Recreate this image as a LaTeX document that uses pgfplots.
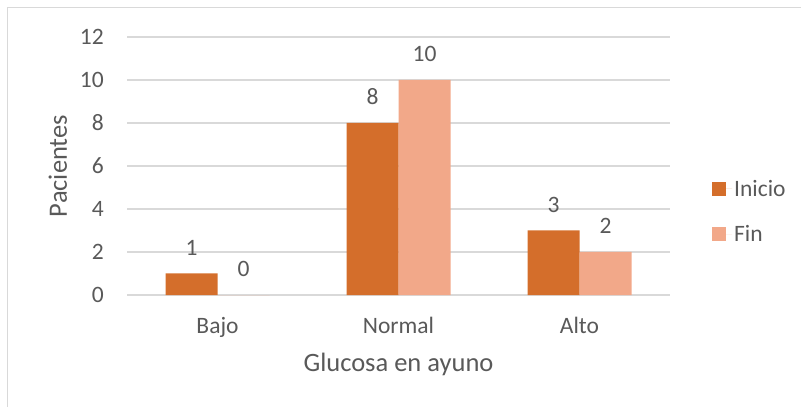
\documentclass[border=0pt]{standalone}
\usepackage{fontspec}
\setmainfont{Carlito}
\usepackage{pgfplots}
\pgfplotsset{compat=1.18}
\definecolor{txt}{HTML}{595959}
\definecolor{gridc}{HTML}{D9D9D9}
\definecolor{inicio}{HTML}{D46E2B}
\definecolor{fin}{HTML}{F2A889}
\newcommand{\tf}{\fontsize{23.5bp}{28bp}\selectfont}
\newcommand{\lf}{\fontsize{26.5bp}{32bp}\selectfont}
\pgfplotsset{sqleg/.style={legend image code/.code={\fill[##1] (0bp,-7bp) rectangle (14bp,7bp); \path (0bp,0bp) -- (20bp,0bp);}}}
\begin{document}
\begin{tikzpicture}
\path[use as bounding box] (0bp,0bp) rectangle (801bp,407bp);
\draw[gridc, line width=1bp] (7.5bp,0bp) -- (7.5bp,399.5bp) -- (801bp,399.5bp);
\begin{axis}[
  at={(127bp,112bp)}, anchor=south west,
  scale only axis, width=543bp, height=258bp,
  ybar=0pt, bar width=52bp,
  xmin=-0.5, xmax=2.5, ymin=0, ymax=12,
  xtick={0,1,2}, xticklabels={Bajo,Normal,Alto},
  ytick={0,2,...,12},
  axis line style={draw=none},
  major tick length=0pt,
  ymajorgrids, grid style={gridc, line width=1.3bp},
  clip=false,
  /pgf/number format/assume math mode=true,
  tick label style={font=\tf, text=txt},
  yticklabel style={anchor=east, inner sep=0pt, xshift=-23bp},
  xticklabel style={anchor=base, inner sep=0pt, yshift=-38bp},
  xlabel={Glucosa en ayuno},
  xlabel style={font=\lf, text=txt, at={(axis description cs:0.5,-0.2984)}, anchor=base, inner sep=0pt},
  ylabel={Pacientes},
  ylabel style={font=\lf, text=txt, at={(axis description cs:-0.1105,0.5)}, anchor=base, inner sep=0pt},
  nodes near coords,
  nodes near coords style={font=\tf, text=txt, anchor=south, inner sep=0pt, yshift=18bp},
  legend style={draw=none, fill=none, at={(axis description cs:1.0773,0.3236)}, anchor=west, inner sep=0pt, font=\tf, text=txt, row sep=24bp, cells={anchor=west}},
]
\addplot[fill=inicio, draw=none, sqleg] coordinates {(0,1) (1,8) (2,3)};
\addplot[fill=fin, draw=none, sqleg] coordinates {(0,0) (1,10) (2,2)};
\legend{Inicio, Fin}
\end{axis}
\end{tikzpicture}
\end{document}
